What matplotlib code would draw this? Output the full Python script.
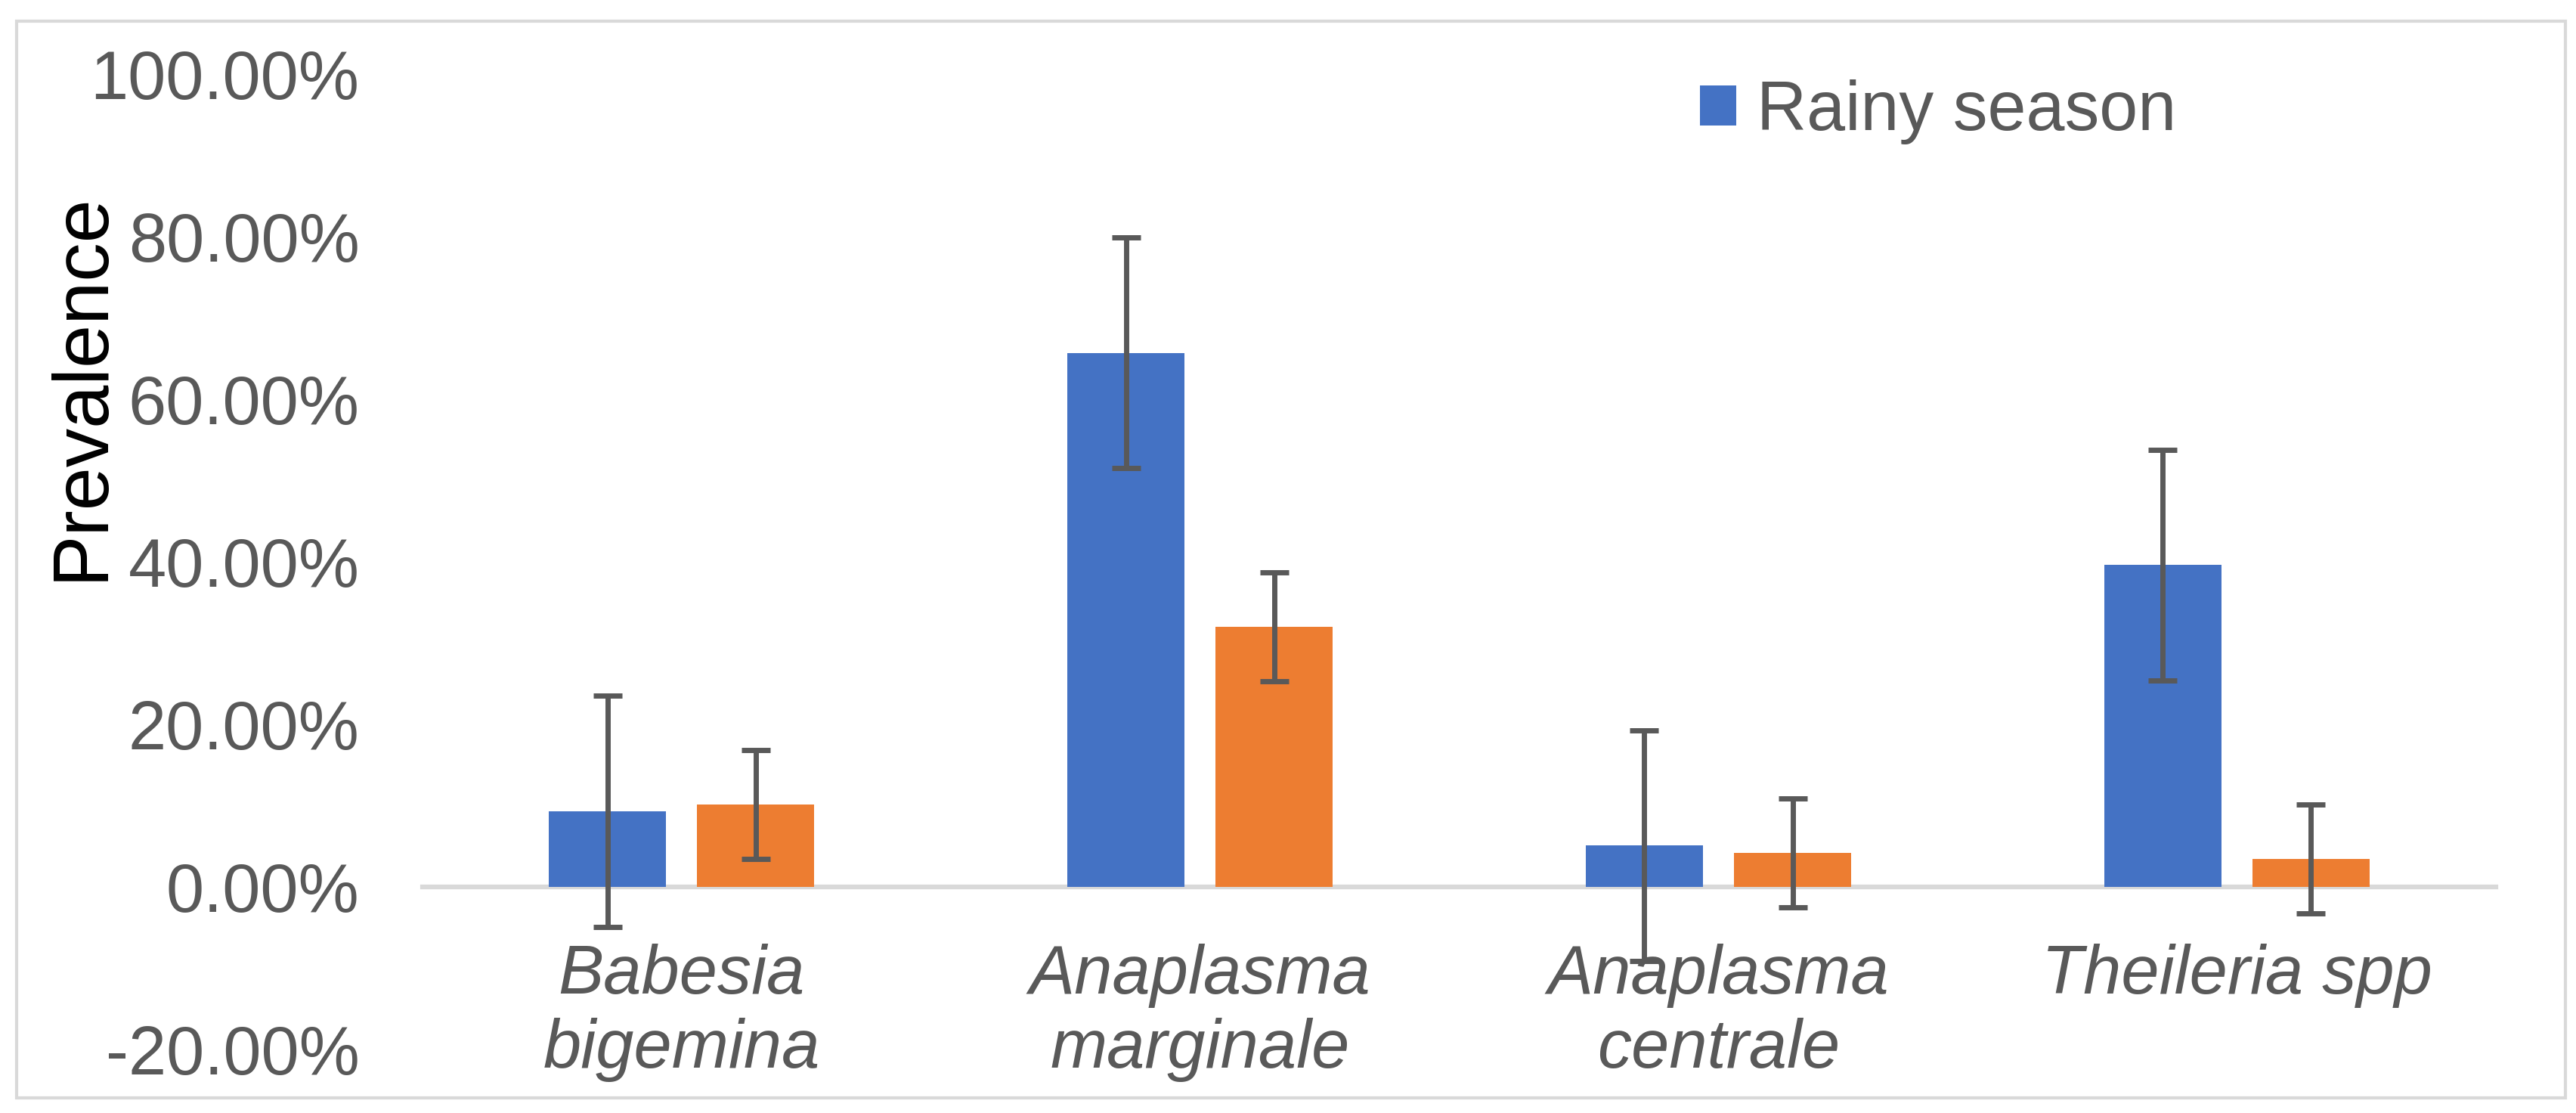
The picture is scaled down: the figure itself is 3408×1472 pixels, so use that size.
import matplotlib
matplotlib.use("Agg")
import matplotlib.pyplot as plt
from matplotlib.patches import Rectangle, Patch
from matplotlib.ticker import FuncFormatter
import numpy as np

plt.rcParams['font.family'] = ['Liberation Sans', 'DejaVu Sans']

categories = ['Babesia\nbigemina', 'Anaplasma\nmarginale', 'Anaplasma\ncentrale', 'Theileria spp']
rainy = [9.3, 65.7, 5.1, 39.6]
rainy_err = [14.2, 14.2, 14.2, 14.2]
dry = [10.1, 32.0, 4.2, 3.4]
dry_err = [6.7, 6.7, 6.7, 6.7]
y_ticks = [-20, 0, 20, 40, 60, 80, 100]

blue = '#4472C4'
orange = '#ED7D31'
grey = '#595959'
light = '#D9D9D9'

fig = plt.figure(figsize=(34.08, 14.72), dpi=100)
ax = fig.add_axes([0.164, 0.0571, 0.805, 0.8763])

x = np.arange(len(categories))
w = 0.226
off = 0.143
err_style = dict(ecolor=grey, elinewidth=5, capsize=14, capthick=5, zorder=3)

ax.bar(x - off, rainy, w, color=blue, yerr=rainy_err, error_kw=err_style, zorder=2)
ax.bar(x + off, dry, w, color=orange, yerr=dry_err, error_kw=err_style, zorder=2)

ax.set_xlim(-0.5, 3.5)
ax.set_ylim(-20, 100)
ax.set_yticks(y_ticks)
ax.yaxis.set_major_formatter(FuncFormatter(lambda v, p: f'{v:.2f}%'))
ax.set_xticks(x)
ax.set_xticklabels(categories)

for s in ['top', 'right', 'left']:
    ax.spines[s].set_visible(False)
ax.spines['bottom'].set_position(('data', 0))
ax.spines['bottom'].set_color(light)
ax.spines['bottom'].set_linewidth(4.5)
ax.spines['bottom'].set_zorder(1)

ax.tick_params(axis='y', length=0, pad=60, labelsize=65, labelcolor=grey)
ax.tick_params(axis='x', length=0, pad=54, labelsize=65, labelcolor=grey)
for t in ax.get_xticklabels():
    t.set_fontstyle('italic')

fig.text(0.032, 0.653, 'Prevalence', rotation=90, fontsize=74, color='black',
         ha='center', va='center')

handle = Patch(facecolor=blue, edgecolor='none')
fig.legend(handles=[handle], labels=['Rainy season'], loc='center left',
           bbox_to_anchor=(0.660, 0.8995), frameon=False, fontsize=66,
           labelcolor=grey, handlelength=0.52, handleheight=0.52,
           handletextpad=0.3, borderpad=0, borderaxespad=0)

fig.patches.append(Rectangle((0.0065, 0.0136), 0.9894, 0.9674, transform=fig.transFigure,
                             fill=False, edgecolor=light, linewidth=3))

fig.savefig('out.png', dpi=100)
